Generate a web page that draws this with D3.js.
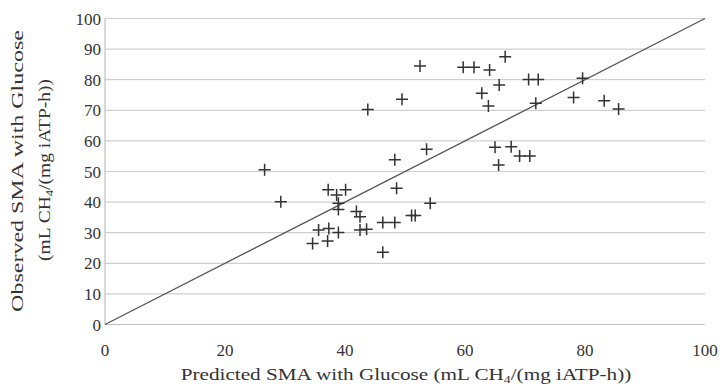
<!DOCTYPE html>
<html>
<head>
<meta charset="utf-8">
<script src="https://cdn.jsdelivr.net/npm/d3@7"></script>
<style>
  body { margin: 0; background: #fff; }
  text { font-family: "Liberation Serif", "DejaVu Serif", serif; fill: #333; }
</style>
</head>
<body>
<div id="chart"></div>
<script>
var W = 720, H = 387;
var margin = {left: 105, right: 15, top: 18.5, bottom: 62.5};

// predicted (x) and observed (y) SMA
var predicted = [26.6, 29.3, 37.2, 40.1, 38.6, 38.9, 38.9, 41.9, 42.5, 35.6,
                 37.3, 38.9, 34.6, 37.1, 42.5, 43.6, 46.3, 48.3, 51.1, 51.7,
                 54.2, 48.6, 48.3, 46.3, 52.5, 49.5, 43.8, 53.6, 66.7, 59.7,
                 61.5, 64.1, 65.7, 70.6, 72.2, 62.8, 63.9, 71.8, 79.6, 78.1,
                 83.2, 85.6, 65.0, 67.7, 69.1, 70.8, 65.6];
var observed  = [50.6, 40.1, 44.0, 44.0, 42.3, 39.6, 37.6, 36.9, 35.2, 30.9,
                 31.4, 30.1, 26.5, 27.3, 30.9, 31.1, 33.3, 33.3, 35.6, 35.6,
                 39.6, 44.5, 53.8, 23.6, 84.5, 73.6, 70.3, 57.3, 87.5, 84.1,
                 84.1, 83.2, 78.3, 80.1, 80.1, 75.6, 71.4, 72.3, 80.5, 74.2,
                 73.1, 70.4, 57.9, 58.1, 55.1, 55.1, 52.1];
var xTicks = [0, 20, 40, 60, 80, 100];
var yTicks = [0, 10, 20, 30, 40, 50, 60, 70, 80, 90, 100];

var svg = d3.select("#chart").append("svg")
    .attr("width", W)
    .attr("height", H);

var x = d3.scaleLinear().domain([0, 100]).range([margin.left, W - margin.right]);
var y = d3.scaleLinear().domain([0, 100]).range([H - margin.bottom, margin.top]);

// horizontal gridlines
svg.append("g").selectAll("line")
  .data(yTicks.slice(1))
  .enter().append("line")
    .attr("x1", x(0)).attr("x2", x(100))
    .attr("y1", function(d) { return y(d); })
    .attr("y2", function(d) { return y(d); })
    .attr("stroke", "#cfcfcf")
    .attr("stroke-width", 1.2);

// axis lines
svg.append("line")
    .attr("x1", x(0)).attr("x2", x(0))
    .attr("y1", y(0)).attr("y2", y(100))
    .attr("stroke", "#c0c0c0").attr("stroke-width", 1.2);
svg.append("line")
    .attr("x1", x(0)).attr("x2", x(100))
    .attr("y1", y(0)).attr("y2", y(0))
    .attr("stroke", "#c0c0c0").attr("stroke-width", 1.2);

// tick labels
svg.append("g").selectAll("text")
  .data(xTicks)
  .enter().append("text")
    .attr("x", function(d) { return x(d); })
    .attr("y", 356)
    .attr("text-anchor", "middle")
    .attr("font-size", 17)
    .text(function(d) { return d; });

svg.append("g").selectAll("text")
  .data(yTicks)
  .enter().append("text")
    .attr("x", 101)
    .attr("y", function(d) { return y(d) + 6; })
    .attr("text-anchor", "end")
    .attr("font-size", 17)
    .text(function(d) { return d; });

// 1:1 line
svg.append("line")
    .attr("x1", x(0)).attr("y1", y(0))
    .attr("x2", x(100)).attr("y2", y(100))
    .attr("stroke", "#555")
    .attr("stroke-width", 1.3);

// plus markers
var pts = predicted.map(function(p, i) { return [p, observed[i]]; });
svg.append("g").selectAll("path")
  .data(pts)
  .enter().append("path")
    .attr("d", function(d) {
      var cx = x(d[0]), cy = y(d[1]);
      return "M" + (cx - 6) + "," + cy + "H" + (cx + 6) +
             "M" + cx + "," + (cy - 6) + "V" + (cy + 6);
    })
    .attr("stroke", "#333")
    .attr("stroke-width", 1.5)
    .attr("fill", "none");

// axis titles (with subscript 4), stretched to the measured width
function title(g, pre, post, size) {
  var t = g.append("text").attr("font-size", size).attr("text-anchor", "middle");
  t.append("tspan").text(pre + "CH");
  t.append("tspan").attr("font-size", size * 0.65).attr("dy", 3).text("4");
  t.append("tspan").attr("dy", -3).text(post);
  return t;
}
function fit(t, len) {
  var w = t.node().getComputedTextLength();
  return len / w;
}

var xg = svg.append("g");
var xt = title(xg, "Predicted SMA with Glucose (mL ", "/(mg iATP-h))", 17);
var sx = fit(xt, 451);
xg.attr("transform", "translate(406,380) scale(" + sx + ",1)");

var yg1 = svg.append("g");
var yt1 = yg1.append("text").attr("font-size", 17).attr("text-anchor", "middle")
    .text("Observed SMA with Glucose");
var s1 = fit(yt1, 282);
yg1.attr("transform", "translate(23,171) rotate(-90) scale(" + s1 + ",1)");

var yg2 = svg.append("g");
var yt2 = title(yg2, "(mL ", "/(mg iATP-h))", 17);
var s2 = fit(yt2, 182);
yg2.attr("transform", "translate(50,170) rotate(-90) scale(" + s2 + ",1)");
</script>
</body>
</html>
